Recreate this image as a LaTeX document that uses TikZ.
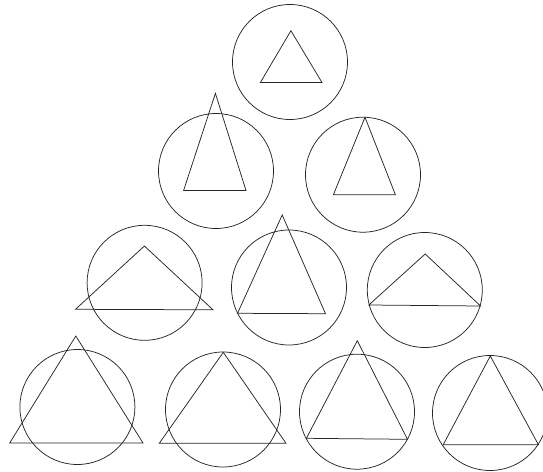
\documentclass[tikz,border=0pt]{standalone}
\begin{document}
\begin{tikzpicture}[x=1pt,y=-1pt,
  ring/.style={draw=black!85,line width=0.75pt},
  tri/.style={draw=black!85,line width=0.75pt,line join=miter}]
\useasboundingbox (0,0) rectangle (543,471);
\clip (0,0) rectangle (543,471);
% row 1
\draw[ring] (290,62) circle (57.5);
\draw[tri] (290.9,30.7) -- (322,82.5) -- (260.4,82.5) -- cycle;
% row 2
\draw[ring] (216,171) circle (57.5);
\draw[tri] (215.4,93.3) -- (246,190.5) -- (183.6,190.5) -- cycle;
\draw[ring] (363,174.7) circle (57.5);
\draw[tri] (365,117.3) -- (395.4,194.7) -- (333.4,194.7) -- cycle;
% row 3
\draw[ring] (144.6,282.8) circle (57.5);
\draw[tri] (144.4,246) -- (213,309.8) -- (75.5,309.3) -- cycle;
\draw[ring] (289,287.5) circle (57.5);
\draw[tri] (282.2,215) -- (325.5,313.7) -- (237.5,313.3) -- cycle;
\draw[ring] (424.8,290) circle (57.5);
\draw[tri] (425.2,254) -- (480.6,306) -- (368.8,305) -- cycle;
% row 4
\draw[ring] (77.4,407) circle (57.5);
\draw[tri] (75.8,336) -- (143,443) -- (9.7,443) -- cycle;
\draw[ring] (223,409.5) circle (57.5);
\draw[tri] (223.3,352.3) -- (286,443.3) -- (159.3,443.3) -- cycle;
\draw[ring] (357,411.7) circle (57.5);
\draw[tri] (357.3,340.7) -- (407.5,439.3) -- (306.4,438.3) -- cycle;
\draw[ring] (490,413) circle (57.5);
\draw[tri] (490.3,356) -- (538.4,444.7) -- (443.2,444.7) -- cycle;
\end{tikzpicture}
\end{document}
